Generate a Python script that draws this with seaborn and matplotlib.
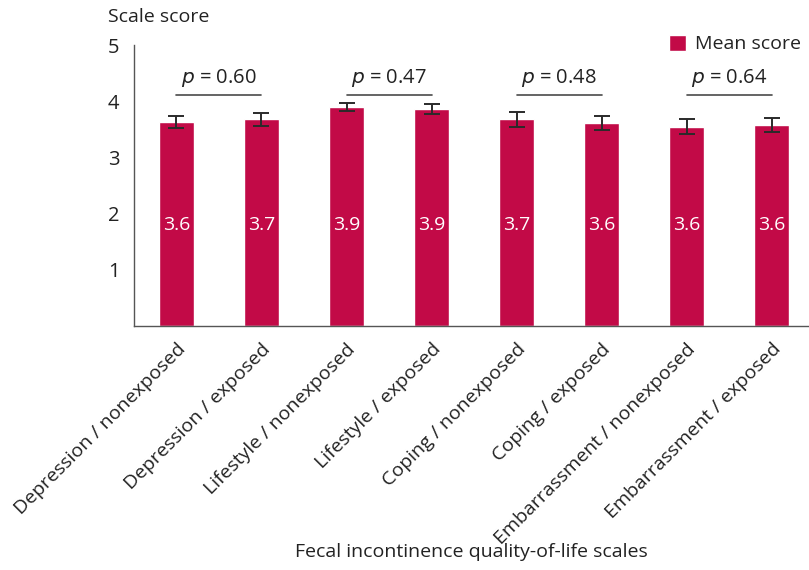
import numpy as np
import pandas as pd
import seaborn as sns
import matplotlib.pyplot as plt

# values
groups = ['Depression / nonexposed', 'Depression / exposed',
          'Lifestyle / nonexposed', 'Lifestyle / exposed',
          'Coping / nonexposed', 'Coping / exposed',
          'Embarrassment / nonexposed', 'Embarrassment / exposed']
mean_score = [3.63, 3.68, 3.90, 3.86, 3.68, 3.61, 3.55, 3.58]
err = [0.10, 0.115, 0.075, 0.09, 0.13, 0.12, 0.14, 0.125]
bar_labels = ['3.6', '3.7', '3.9', '3.9', '3.7', '3.6', '3.6', '3.6']
p_values = ['0.60', '0.47', '0.48', '0.64']

df = pd.DataFrame({'group': groups, 'score': mean_score, 'err': err})

sns.set_style('white')
plt.rcParams['font.family'] = ['Open Sans', 'DejaVu Sans']

bar_col = '#c20a47'
txt_col = '#222222'
fig = plt.figure(figsize=(8.09, 5.70), dpi=100)
ax = fig.add_axes([0.1656, 0.428, 0.8344, 0.493])

sns.barplot(data=df, x='group', y='score', color=bar_col, width=0.41,
            saturation=1, errorbar=None, label='Mean score', ax=ax)
ax.errorbar(np.arange(len(groups)), df['score'], yerr=df['err'], fmt='none',
            ecolor='#2a2a2a', elinewidth=1.4, capsize=5.5, capthick=1.4)

# value labels inside bars
for i, lab in enumerate(bar_labels):
    ax.text(i, 1.8, lab, color='white', ha='center', va='center', fontsize=14)

# p-value brackets between pairs
for k, pv in enumerate(p_values):
    x0, x1 = 2 * k, 2 * k + 1
    ax.plot([x0, x1], [4.11, 4.11], color='#4a4a4a', lw=1.2)
    ax.text((x0 + x1) / 2, 4.22, r'$\it{p}$' + ' = ' + pv, ha='center', va='bottom',
            fontsize=14.5, color=txt_col)

ax.set_xlim(-0.5, 7.44)
ax.set_ylim(0, 5)
ax.set_yticks([1, 2, 3, 4, 5])
ax.set_yticklabels(['1', '2', '3', '4', '5'], fontsize=14.5, color=txt_col)
ax.tick_params(axis='y', direction='inout', length=9, width=1, color='#555555', pad=6)

ax.set_xticks(np.arange(len(groups)))
ax.set_xticklabels(groups, rotation=45, ha='right', rotation_mode='anchor',
                   fontsize=14, color=txt_col)
ax.set_xticks(np.arange(-0.5, 7, 1), minor=True)
ax.tick_params(axis='x', which='major', length=0, pad=10)
ax.tick_params(axis='x', which='minor', direction='out', length=6, width=1, color='#555555')

sns.despine(ax=ax, top=True, right=True)
for s in ['left', 'bottom']:
    ax.spines[s].set_color('#555555')
    ax.spines[s].set_linewidth(1)

ax.set_xlabel('')
ax.set_ylabel('')
fig.text(471 / 809, 1 - 552 / 570, 'Fecal incontinence quality-of-life scales',
         fontsize=14, color=txt_col, ha='center', va='center')
fig.text(108 / 809, 1 - 17 / 570, 'Scale score', fontsize=14, color=txt_col, va='center')

leg = ax.legend(loc='upper right', frameon=False, fontsize=14, handlelength=0.9,
                handleheight=0.9, handletextpad=0.45, borderaxespad=0.0,
                bbox_to_anchor=(1.0, 1.065))
for t in leg.get_texts():
    t.set_color(txt_col)

fig.savefig('out.png', dpi=100)
